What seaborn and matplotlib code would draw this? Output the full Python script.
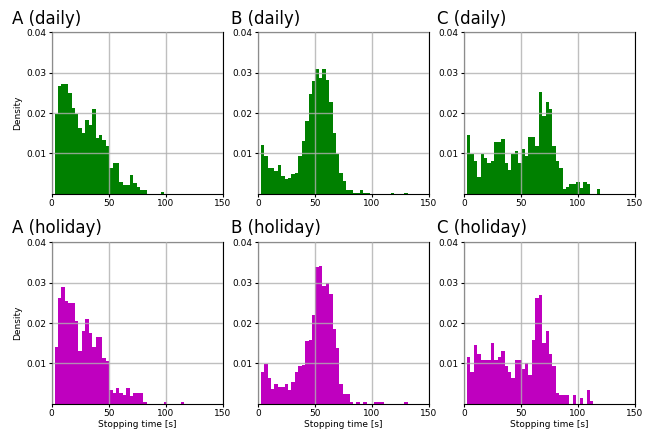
import numpy as np
import pandas as pd
import seaborn as sns
import matplotlib
matplotlib.use("Agg")
import matplotlib.pyplot as plt

# bar heights (density), bins of 3 s starting at 2.5 s
a_daily = [0.0198, 0.0267, 0.0272, 0.0272, 0.0249, 0.0212, 0.0198, 0.0162, 0.0151, 0.0183,
           0.0170, 0.0210, 0.0138, 0.0145, 0.0133, 0.0118, 0.0064, 0.0077, 0.0077, 0.0030,
           0.0021, 0.0021, 0.0047, 0.0027, 0.0016, 0.0009, 0.0009, 0, 0, 0,
           0, 0.0004]
b_daily = [0.0121, 0.0093, 0.0064, 0.0064, 0.0057, 0.0071, 0.0045, 0.0036, 0.0040, 0.0049,
           0.0052, 0.0093, 0.0131, 0.0180, 0.0247, 0.0279, 0.0309, 0.0287, 0.0309, 0.0282,
           0.0228, 0.0151, 0.0098, 0.0051, 0.0031, 0.0009, 0.0010, 0.0003, 0.0003, 0.0010,
           0.0003, 0.0003, 0, 0, 0, 0, 0, 0, 0.0003, 0,
           0, 0, 0.0003]
c_daily = [0.0145, 0.0098, 0.0081, 0.0041, 0.0098, 0.0088, 0.0076, 0.0081, 0.0128, 0.0128,
           0.0136, 0.0076, 0.0059, 0.0098, 0.0106, 0.0076, 0.0111, 0.0093, 0.0141, 0.0141,
           0.0118, 0.0252, 0.0193, 0.0227, 0.0210, 0.0118, 0.0081, 0.0063, 0.0012, 0.0018,
           0.0025, 0.0025, 0.0029, 0.0015, 0.0029, 0.0025, 0, 0, 0.0012]
a_holiday = [0.0140, 0.0262, 0.0289, 0.0255, 0.0250, 0.0250, 0.0205, 0.0131, 0.0180, 0.0210,
             0.0175, 0.0140, 0.0165, 0.0165, 0.0113, 0.0106, 0.0034, 0.0027, 0.0039, 0.0027,
             0.0021, 0.0039, 0.0019, 0.0027, 0.0027, 0.0027, 0.0004, 0, 0, 0,
             0, 0, 0.0004, 0, 0, 0, 0, 0.0004]
b_holiday = [0.0079, 0.0098, 0.0064, 0.0036, 0.0049, 0.0041, 0.0042, 0.0049, 0.0034, 0.0054,
             0.0079, 0.0093, 0.0096, 0.0155, 0.0158, 0.0220, 0.0339, 0.0341, 0.0292, 0.0299,
             0.0272, 0.0185, 0.0138, 0.0049, 0.0024, 0.0024, 0.0004, 0, 0.0003, 0,
             0.0003, 0, 0, 0.0004, 0.0003, 0.0003, 0, 0, 0, 0,
             0, 0, 0.0004]
c_holiday = [0.0116, 0.0079, 0.0145, 0.0123, 0.0108, 0.0108, 0.0108, 0.0150, 0.0108, 0.0116,
             0.0131, 0.0093, 0.0079, 0.0064, 0.0108, 0.0108, 0.0086, 0.0101, 0.0071, 0.0158,
             0.0262, 0.0269, 0.0150, 0.0180, 0.0123, 0.0093, 0.0026, 0.0021, 0.0021, 0.0021,
             0, 0.0021, 0, 0.0013, 0, 0.0034, 0.0007]

titles = ["A (daily)", "B (daily)", "C (daily)", "A (holiday)", "B (holiday)", "C (holiday)"]
series = [a_daily, b_daily, c_daily, a_holiday, b_holiday, c_holiday]
colors = ["g", "g", "g", "m", "m", "m"]

x_ticks = [0, 50, 100, 150]
y_ticks = [0.01, 0.02, 0.03, 0.04]

bin_start = 2.5
bin_width = 3.0

fig, axes = plt.subplots(2, 3, figsize=(6.54, 4.32), dpi=100)
fig.subplots_adjust(left=0.079, right=0.971, bottom=0.0655, top=0.925, wspace=0.206, hspace=0.301)

for i, ax in enumerate(axes.flat):
    n = len(series[i])
    df = pd.DataFrame({
        "t": bin_start + bin_width * (np.arange(n) + 0.5),
        "d": series[i],
    })
    sns.histplot(data=df, x="t", weights="d", binwidth=bin_width,
                 binrange=(bin_start, bin_start + bin_width * n), stat="count",
                 color=colors[i], alpha=1, linewidth=0, ax=ax)

    ax.set_xlim(0, 150)
    ax.set_ylim(0, 0.04)
    ax.set_xticks(x_ticks)
    ax.set_yticks(y_ticks)
    ax.tick_params(labelsize=6.5, length=2, width=0.8, pad=2)
    ax.grid(True, color="#b0b0b0", linewidth=1, alpha=0.8)
    ax.set_axisbelow(False)
    for s in ax.spines.values():
        s.set_color("black")
        s.set_linewidth(0.8)

    # titles sit left of the axes
    off = -0.23 if i % 3 == 0 else -0.16
    ax.text(off, 1.03, titles[i], transform=ax.transAxes, fontsize=12, ha="left", va="bottom")

    if i % 3 == 0:
        ax.set_ylabel("Density", fontsize=6.5, labelpad=3)
    else:
        ax.set_ylabel("")
    if i >= 3:
        ax.set_xlabel("Stopping time [s]", fontsize=6.5, labelpad=1)
    else:
        ax.set_xlabel("")

fig.savefig("out.png", dpi=100)
